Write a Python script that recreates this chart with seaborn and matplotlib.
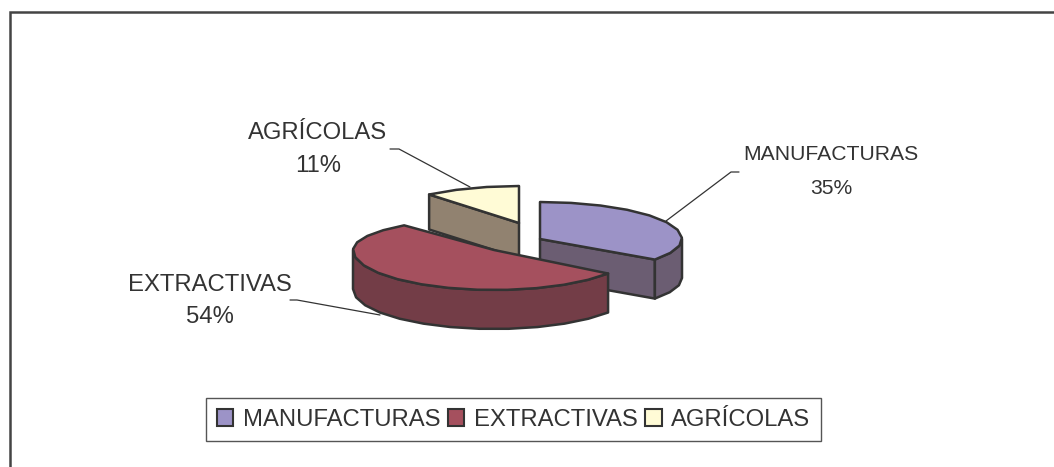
import numpy as np
import matplotlib.pyplot as plt
import seaborn as sns
from matplotlib.patches import Patch, Polygon

# data
categories = ['MANUFACTURAS', 'EXTRACTIVAS', 'AGRÍCOLAS']
shares = [35, 54, 11]
top_colors = ['#9C93C7', '#A5505E', '#FFFBD6']
wall_colors = ['#6B5D72', '#733D47', '#918270']

# slice layout in pixels: center x, center y, radius x, back radius y, front radius y, depth
layout = {
    'MANUFACTURAS': (540, 239, 142, 37, 35, 39),
    'EXTRACTIVAS': (494, 250, 141, 32, 40, 39),
    'AGRÍCOLAS': (519, 223, 141, 37, 37, 35),
}
label_pos = {
    'MANUFACTURAS': (831, 155, 831, 188),
    'EXTRACTIVAS': (210, 285, 210, 317),
    'AGRÍCOLAS': (318, 133, 318, 166),
}
label_size = {'MANUFACTURAS': 15.2, 'EXTRACTIVAS': 17.2, 'AGRÍCOLAS': 17.2}
leaders = {
    'MANUFACTURAS': ([666, 731, 739], [221, 172, 172]),
    'EXTRACTIVAS': ([290, 297, 380], [300, 300, 315]),
    'AGRÍCOLAS': ([390, 399, 470], [149, 149, 187]),
}

EDGE = '#333333'
TEXT = '#333333'

sns.set_theme(style='white')
plt.rcParams['font.family'] = ['Liberation Sans', 'DejaVu Sans']

fig, ax = plt.subplots(figsize=(10.54, 4.67), dpi=100)
ax.set_position([0, 0, 1, 1])
ax.set_xlim(0, 1054)
ax.set_ylim(467, 0)
ax.axis('off')


def rim(name, t):
    cx, cy, a, b_back, b_front, depth = layout[name]
    t = np.radians(t)
    b = np.where(np.cos(t) > 0, b_back, b_front)
    return cx + a * np.sin(t), cy - b * np.cos(t)


def arc(start, end):
    # coarse steps, the original outline is faceted
    n = max(int(abs(end - start) / 12), 1)
    return np.linspace(start, end, n + 1)


def face(xs, ys, color, z):
    ax.add_patch(Polygon(np.column_stack([xs, ys]), closed=True, facecolor=color,
                         edgecolor=EDGE, lw=1.8, joinstyle='round', zorder=z))


angles = np.cumsum([0] + shares) * 3.6
spans = {c: (angles[i], angles[i + 1]) for i, c in enumerate(categories)}
top_c = dict(zip(categories, top_colors))
wall_c = dict(zip(categories, wall_colors))

# back to front
for z, name in enumerate(['AGRÍCOLAS', 'MANUFACTURAS', 'EXTRACTIVAS']):
    start, end = spans[name]
    cx, cy, a, bb, bf, depth = layout[name]
    base = z * 10 + 2

    # cut faces that look toward the viewer
    if name == 'AGRÍCOLAS':
        x, y = rim(name, start)
        face([x, cx, cx, x], [y, cy, cy + depth, y + depth], wall_c[name], base)
    if name == 'MANUFACTURAS':
        x, y = rim(name, end)
        face([cx, x, x, cx], [cy, y, y + depth, cy + depth], wall_c[name], base)

    # outer wall, only the front half shows
    lo, hi = max(start, 90), min(end, 270)
    if lo < hi:
        t = arc(lo, hi)
        x, y = rim(name, t)
        face(np.r_[x, x[::-1]], np.r_[y, y[::-1] + depth], wall_c[name], base + 1)

    t = arc(start, end)
    x, y = rim(name, t)
    face(np.r_[cx, x], np.r_[cy, y], top_c[name], base + 2)

for i, name in enumerate(categories):
    lx, ly, px, py = label_pos[name]
    size = label_size[name]
    ax.text(lx, ly, name, ha='center', va='center', fontsize=size, color=TEXT)
    ax.text(px, py, f'{shares[i]}%', ha='center', va='center', fontsize=size, color=TEXT)
    ax.plot(*leaders[name], color=EDGE, lw=0.9, zorder=1)

# frame is open on the right and at the bottom
ax.plot([10, 10, 1054], [467, 12, 12], color='#444444', lw=1.8, solid_joinstyle='miter', zorder=1)

handles = [Patch(facecolor=c, edgecolor=EDGE, lw=1.5) for c in top_colors]
ax.legend(handles, categories, ncol=3, loc='center', bbox_to_anchor=(513.5, 419.5),
          bbox_transform=ax.transData, fontsize=17.2, labelcolor=TEXT, frameon=True,
          fancybox=False, framealpha=1, edgecolor='#555555', handlelength=0.7,
          handleheight=0.7, handletextpad=0.4, columnspacing=0.3, borderpad=0.45,
          borderaxespad=0)

fig.savefig('out.png', dpi=100, facecolor='white')
